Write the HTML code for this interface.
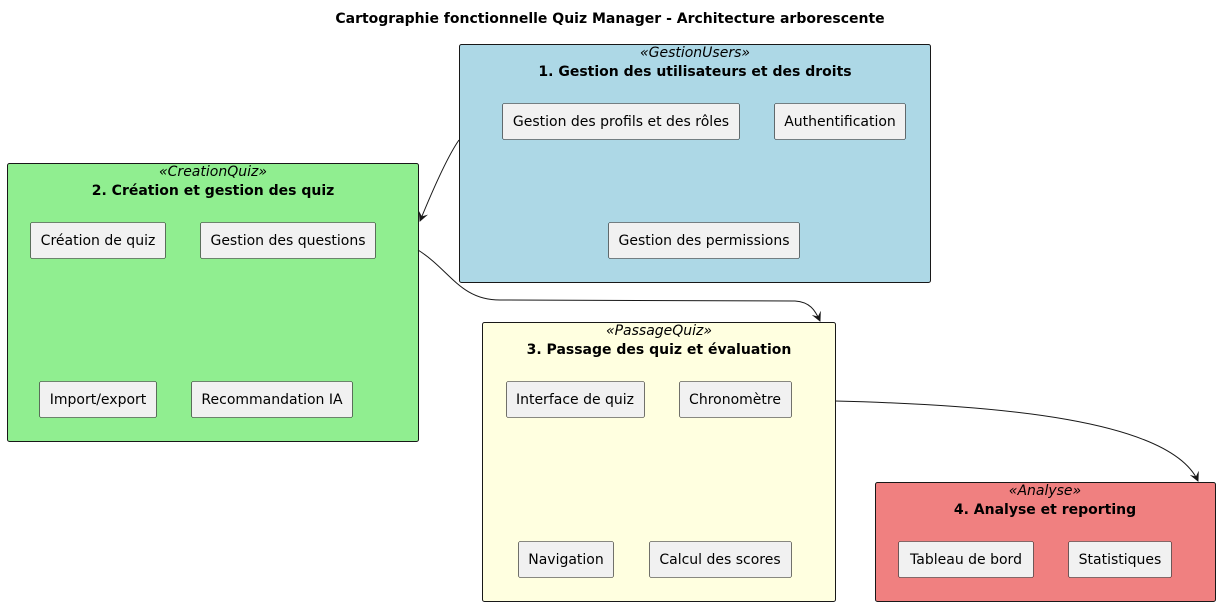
<!DOCTYPE html>
<html><head><meta charset="utf-8"><style>body{margin:0;background:#fff}svg{display:block}text{font-family:"DejaVu Sans","Liberation Sans",sans-serif;font-size:14px;fill:#000}</style></head><body>
<svg width="1220" height="606" viewBox="0 0 1220 606">
<defs><marker id="a" markerWidth="10" markerHeight="10" refX="9" refY="5" orient="auto" markerUnits="userSpaceOnUse"><path d="M0,0 L10,5 L0,10 L4,5 Z" fill="#181818"/></marker></defs>
<text x="610" y="23" text-anchor="middle" font-weight="bold">Cartographie fonctionnelle Quiz Manager - Architecture arborescente</text>
<g stroke="#181818" stroke-width="1">
<rect x="459.5" y="44.5" width="471" height="238" rx="2" fill="#ADD8E6"/>
<rect x="7.5" y="163.5" width="411" height="278" rx="2" fill="#90EE90"/>
<rect x="482.5" y="322.5" width="353" height="279" rx="2" fill="#FFFFE0"/>
<rect x="875.5" y="482.5" width="340" height="119" rx="2" fill="#F08080"/>
</g>
<g text-anchor="middle">
<text x="695" y="57" font-style="italic">«GestionUsers»</text>
<text x="695" y="76" font-weight="bold">1. Gestion des utilisateurs et des droits</text>
<text x="213" y="176" font-style="italic">«CreationQuiz»</text>
<text x="213" y="195" font-weight="bold">2. Création et gestion des quiz</text>
<text x="659" y="335" font-style="italic">«PassageQuiz»</text>
<text x="659" y="354" font-weight="bold">3. Passage des quiz et évaluation</text>
<text x="1045" y="495" font-style="italic">«Analyse»</text>
<text x="1045" y="514" font-weight="bold">4. Analyse et reporting</text>
</g>
<g stroke="#181818" stroke-width="0.6" fill="#F1F1F1">
<rect x="502.5" y="103.5" width="237" height="36" rx="2"/>
<rect x="774.5" y="103.5" width="131" height="36" rx="2"/>
<rect x="608.5" y="222.5" width="191" height="36" rx="2"/>
<rect x="30.5" y="222.5" width="135" height="36" rx="2"/>
<rect x="200.5" y="222.5" width="175" height="36" rx="2"/>
<rect x="39.5" y="381.5" width="117" height="36" rx="2"/>
<rect x="191.5" y="381.5" width="161" height="36" rx="2"/>
<rect x="506.5" y="381.5" width="138" height="36" rx="2"/>
<rect x="679.5" y="381.5" width="112" height="36" rx="2"/>
<rect x="518.5" y="541.5" width="95" height="36" rx="2"/>
<rect x="649.5" y="541.5" width="142" height="36" rx="2"/>
<rect x="898.5" y="541.5" width="135" height="36" rx="2"/>
<rect x="1068.5" y="541.5" width="103" height="36" rx="2"/>
</g>
<g text-anchor="middle">
<text x="621" y="126">Gestion des profils et des rôles</text>
<text x="840" y="126">Authentification</text>
<text x="704" y="245">Gestion des permissions</text>
<text x="98" y="245">Création de quiz</text>
<text x="288" y="245">Gestion des questions</text>
<text x="98" y="404">Import/export</text>
<text x="272" y="404">Recommandation IA</text>
<text x="575" y="404">Interface de quiz</text>
<text x="735" y="404">Chronomètre</text>
<text x="566" y="564">Navigation</text>
<text x="720" y="564">Calcul des scores</text>
<text x="966" y="564">Tableau de bord</text>
<text x="1120" y="564">Statistiques</text>
</g>
<g fill="none" stroke="#181818" stroke-width="1">
<path d="M459,140 Q445,160 420,221" marker-end="url(#a)"/>
<path d="M418,250 C450,270 460,300 500,300 L795,301 C810,302 815,310 820,321" marker-end="url(#a)"/>
<path d="M835,401 C1000,405 1170,420 1198,481" marker-end="url(#a)"/>
</g>
</svg>
</body></html>
